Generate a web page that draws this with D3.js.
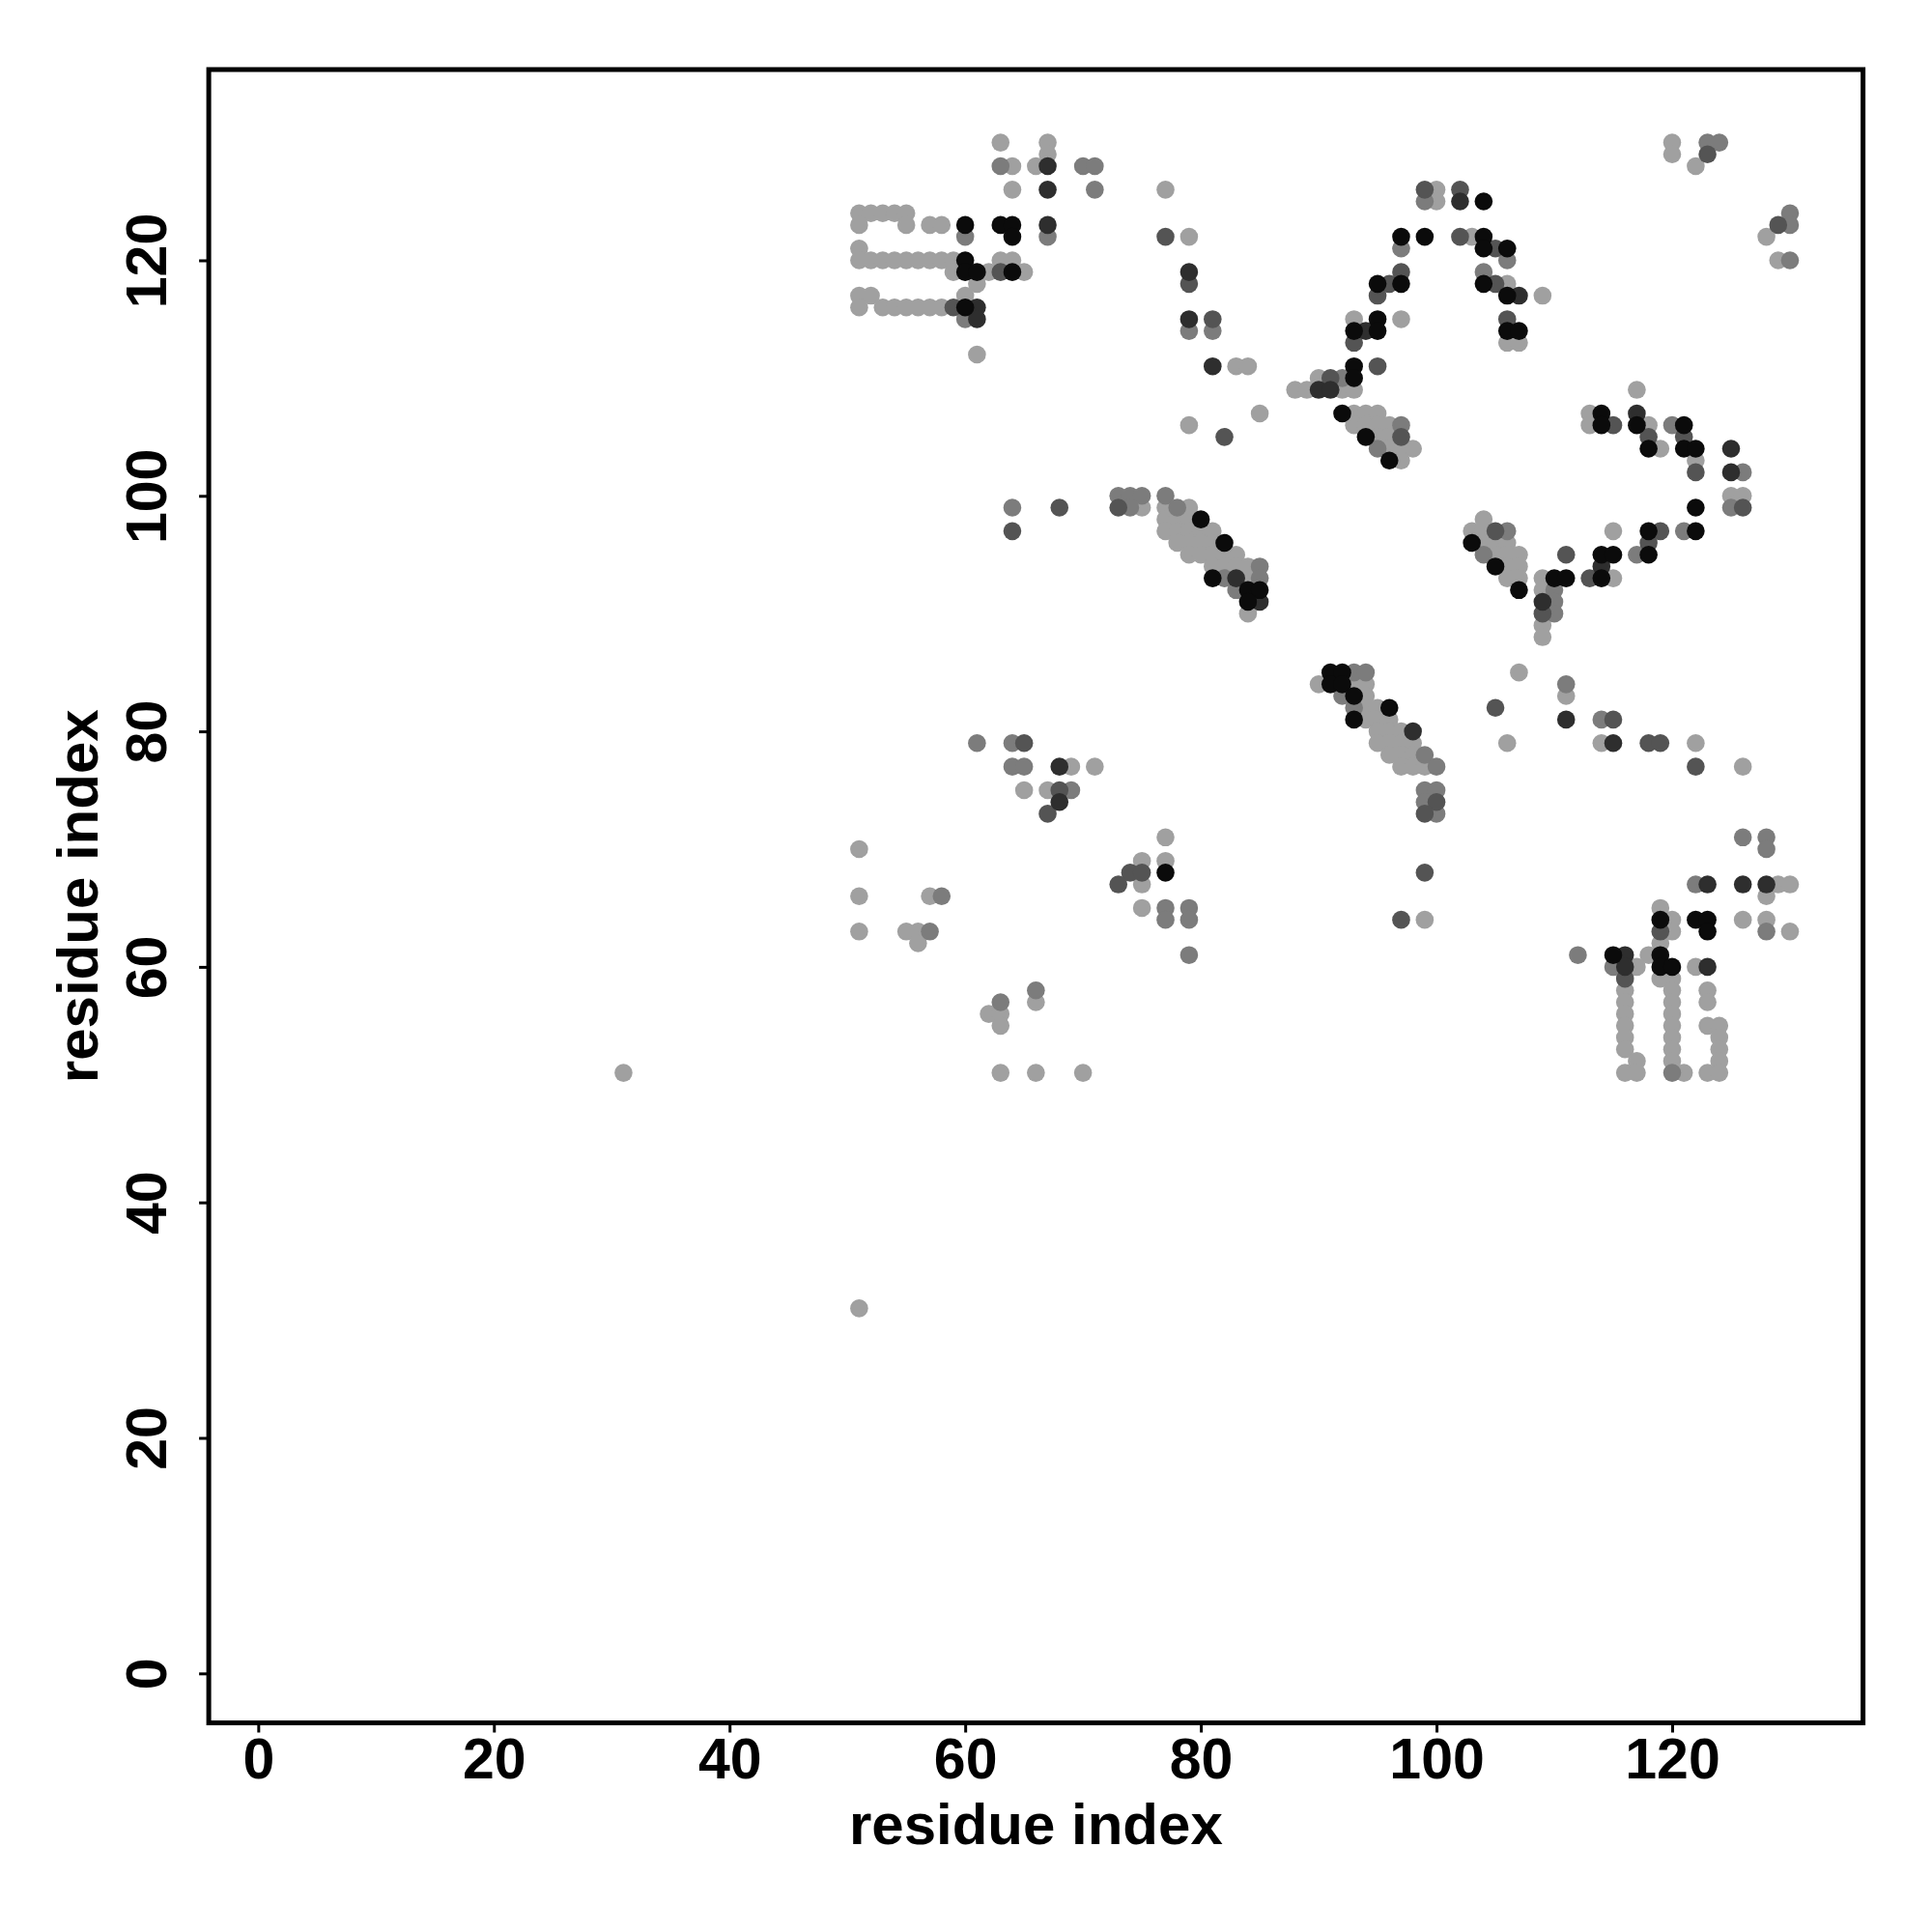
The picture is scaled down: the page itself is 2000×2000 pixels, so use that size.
<!DOCTYPE html>
<html>
<head>
<meta charset="utf-8">
<script src="https://cdn.jsdelivr.net/npm/d3@7"></script>
<style>
  html, body { margin: 0; padding: 0; background: #ffffff; }
  svg { display: block; }
  text { font-family: "Liberation Sans", Arial, Helvetica, sans-serif; font-weight: bold; }
</style>
</head>
<body>
<svg id="chart" width="2000" height="2000"></svg>
<script>
// ---------------- data ----------------
const xTicks = [0, 20, 40, 60, 80, 100, 120];
const yTicks = [0, 20, 40, 60, 80, 100, 120];
const xLabel = "residue index";
const yLabel = "residue index";

// contacts grouped by shade (1 = strongest / black ... 5 = weakest / light grey)
const lightContacts = [
  [63,130],[67,130],[67,129],[64,128],[66,128],[64,126],[77,126],[51,124],[52,124],[53,124],[54,124],[55,124],
  [51,123],[55,123],[57,123],[58,123],[51,121],[51,120],[52,120],[53,120],[54,120],[55,120],[56,120],[57,120],
  [58,120],[59,120],[63,120],[64,120],[59,119],[62,119],[65,119],[61,118],[51,117],[52,117],[60,117],[51,116],
  [53,116],[54,116],[55,116],[56,116],[57,116],[58,116],[61,112],
  [79,122],[83,111],[84,111],[85,107],[79,106],[100,126],[100,125],[103,122],[93,115],[97,115],[90,110],[88,109],
  [89,109],[92,109],[93,109],
  [93,107],[94,107],[95,107],[93,106],[94,106],[95,106],[96,106],[95,105],[96,105],[96,104],[97,104],[98,104],[97,103],
  [120,130],[120,129],[122,128],[128,122],[129,120],[106,118],[109,117],[106,113],[107,113],[117,109],[113,107],
  [113,106],[118,106],
  [119,104],[122,103],[125,100],[126,100],[104,98],[103,97],[104,97],[115,97],[104,96],[105,96],[106,96],[105,95],
  [106,95],[107,95],[106,94],[107,94],[106,93],[107,93],[109,93],[115,93],[109,92],[109,89],[109,88],[107,85],
  [111,83],[106,79],[114,79],[122,79],
  [75,99],
  [77,99],[79,99],[77,98],[78,98],[79,98],[77,97],[78,97],[79,97],[80,97],[81,97],[78,96],[79,96],[80,96],[81,96],
  [79,95],[80,95],[81,95],[82,95],[83,95],[81,94],[82,94],[83,94],[84,94],[84,93],[84,90],
  [90,84],[93,84],[94,84],[94,83],[94,82],[95,82],[94,81],[95,81],[96,81],[95,80],[96,80],[97,80],[95,79],[96,79],
  [97,79],[98,79],[96,78],[97,78],[98,78],[97,77],[98,77],[99,77],
  [69,77],[71,77],[65,75],[67,75],[77,71],[51,70],[75,69],[77,69],[75,67],[51,66],[57,66],[75,65],[99,64],[51,63],
  [55,63],[56,63],[56,62],[66,57],[62,56],[63,56],[63,55],[63,51],[66,51],[70,51],[31,51],[51,31],
  [126,77],[129,67],[130,67],[128,66],[119,65],[120,64],[126,64],[128,64],[120,63],[130,63],[119,62],[118,61],
  [117,60],[122,60],[119,59],[120,59],[116,58],[120,58],[123,58],[116,57],[120,57],[123,57],[116,56],[120,56],
  [116,55],[120,55],[123,55],[124,55],[116,54],[120,54],[124,54],[116,53],[120,53],[124,53],[117,52],[120,52],
  [124,52],[116,51],[117,51],[121,51],[123,51],[124,51]
];
const midContacts = [
  [63,128],[70,128],[71,128],[71,126],[60,122],[67,122],[60,115],
  [79,114],[81,114],[99,125],[97,121],[104,119],[92,110],
  [97,106],[95,104],
  [123,130],[124,130],[130,124],[130,123],[106,120],[130,120],[120,106],
  [126,102],[125,99],[106,97],[121,97],[104,95],[117,95],[110,92],[110,91],[110,90],[111,84],[114,81],
  [73,100],[74,100],[75,100],[74,99],[64,99],
  [77,100],[78,99],[85,94],[82,93],[85,93],[83,92],
  [93,85],[94,85],[92,83],[93,82],[99,78],[100,77],[99,75],[100,75],[99,74],[100,73],
  [61,79],[64,79],[64,77],[65,77],[69,75],[58,66],[77,65],[79,65],[77,64],[79,64],[57,63],[79,61],[66,58],[63,57],
  [126,71],[128,71],[128,70],[122,67],[128,63],[112,61],[115,60],[120,51]
];
const dimContacts = [
  [63,119],[59,116],
  [77,122],[79,118],[81,115],[82,105],[99,126],[102,126],[102,122],[97,119],[96,118],[95,117],[93,113],[95,111],[91,110],
  [97,105],
  [123,129],[129,123],[105,121],[105,118],[106,115],[115,106],[118,105],[121,105],
  [122,102],[126,99],[105,97],[119,97],[118,96],[111,95],[113,93],[109,90],[105,82],[115,81],[118,79],[119,79],
  [73,99],[68,99],[64,97],
  [100,74],[99,73],
  [65,79],[68,75],[67,73],[74,68],[75,68],[99,68],[73,67],[97,64],
  [122,77],[119,63],[116,59]
];
const darkContacts = [
  [67,128],[67,126],[67,123],[61,116],[61,115],
  [79,119],[79,115],[81,111],[102,125],[94,114],[90,109],[91,109],
  [107,117],[117,107],
  [125,104],[125,102],[114,94],[109,91],[111,81],[115,79],
  [83,93],[85,91],
  [98,80],
  [68,77],[68,74],
  [123,67],[126,67],[128,67],[116,61],[116,60],[123,60]
];
const blackContacts = [
  [60,123],[63,123],[64,123],[64,122],[60,120],[60,119],[61,119],[64,119],[60,116],
  [104,125],[97,122],[99,122],[104,122],[104,121],[95,118],[97,118],[104,118],[95,115],[93,114],[95,114],[93,111],[93,110],
  [92,107],[94,105],[96,103],
  [106,121],[106,117],[106,114],[107,114],[114,107],[114,106],[117,106],[121,106],
  [118,104],[121,104],[122,104],[122,99],[118,97],[122,97],[103,96],[114,95],[115,95],[118,95],[105,94],[110,93],
  [111,93],[114,93],[107,92],
  [80,98],[82,96],[81,93],[84,92],[85,92],[84,91],
  [91,85],[92,85],[91,84],[92,84],[93,83],[96,82],[93,81],
  [77,68],
  [119,64],[122,64],[123,64],[123,63],[115,61],[119,61],[119,60],[120,60]
];

// ---------------- drawing ----------------
const svg = d3.select("#chart");
svg.append("rect").attr("width", 2000).attr("height", 2000).attr("fill", "#ffffff");

const x = d3.scaleLinear().domain([-4.2, 136.2]).range([216.1, 1928.6]);
const y = d3.scaleLinear().domain([-4.2, 136.2]).range([1783.5, 72]);

const layers = [
  { data: lightContacts, color: "#a0a0a0" },
  { data: midContacts,   color: "#7c7c7c" },
  { data: dimContacts,   color: "#545454" },
  { data: darkContacts,  color: "#2e2e2e" },
  { data: blackContacts, color: "#0b0b0b" }
];

const pts = svg.append("g");
layers.forEach(layer => {
  pts.append("g").selectAll("circle")
    .data(layer.data)
    .join("circle")
    .attr("cx", d => x(d[0]))
    .attr("cy", d => y(d[1]))
    .attr("r", 9.3)
    .attr("fill", layer.color);
});

// frame
svg.append("rect")
  .attr("x", x.range()[0]).attr("y", y.range()[1])
  .attr("width", x.range()[1] - x.range()[0])
  .attr("height", y.range()[0] - y.range()[1])
  .attr("fill", "none").attr("stroke", "#000").attr("stroke-width", 5);

// x axis
const gx = svg.append("g").attr("transform", `translate(0,${y.range()[0]})`)
  .call(d3.axisBottom(x).tickValues(xTicks).tickSize(10).tickFormat(d3.format("d")));
gx.select(".domain").remove();
gx.selectAll(".tick line").attr("stroke", "#000").attr("stroke-width", 3);
gx.selectAll(".tick text")
  .attr("y", 57).attr("dy", 0)
  .attr("fill", "#000")
  .style("font-size", "59px").style("font-weight", "bold")
  .style("font-family", "'Liberation Sans', Arial, Helvetica, sans-serif");

// y axis
const gy = svg.append("g").attr("transform", `translate(${x.range()[0]},0)`)
  .call(d3.axisLeft(y).tickValues(yTicks).tickSize(10).tickFormat(d3.format("d")));
gy.select(".domain").remove();
gy.selectAll(".tick line").attr("stroke", "#000").attr("stroke-width", 3);
gy.selectAll(".tick text")
  .attr("x", 0).attr("y", 0).attr("dy", 0)
  .attr("text-anchor", "middle")
  .attr("transform", "translate(-44,0) rotate(-90)")
  .attr("fill", "#000")
  .style("font-size", "59px").style("font-weight", "bold")
  .style("font-family", "'Liberation Sans', Arial, Helvetica, sans-serif");

// axis titles
svg.append("text")
  .attr("x", (x.range()[0] + x.range()[1]) / 2).attr("y", 1909)
  .attr("text-anchor", "middle")
  .style("font-size", "60px")
  .text(xLabel);

svg.append("text")
  .attr("transform", `translate(101,${(y.range()[0] + y.range()[1]) / 2}) rotate(-90)`)
  .attr("text-anchor", "middle")
  .style("font-size", "60px")
  .text(yLabel);
</script>
</body>
</html>
